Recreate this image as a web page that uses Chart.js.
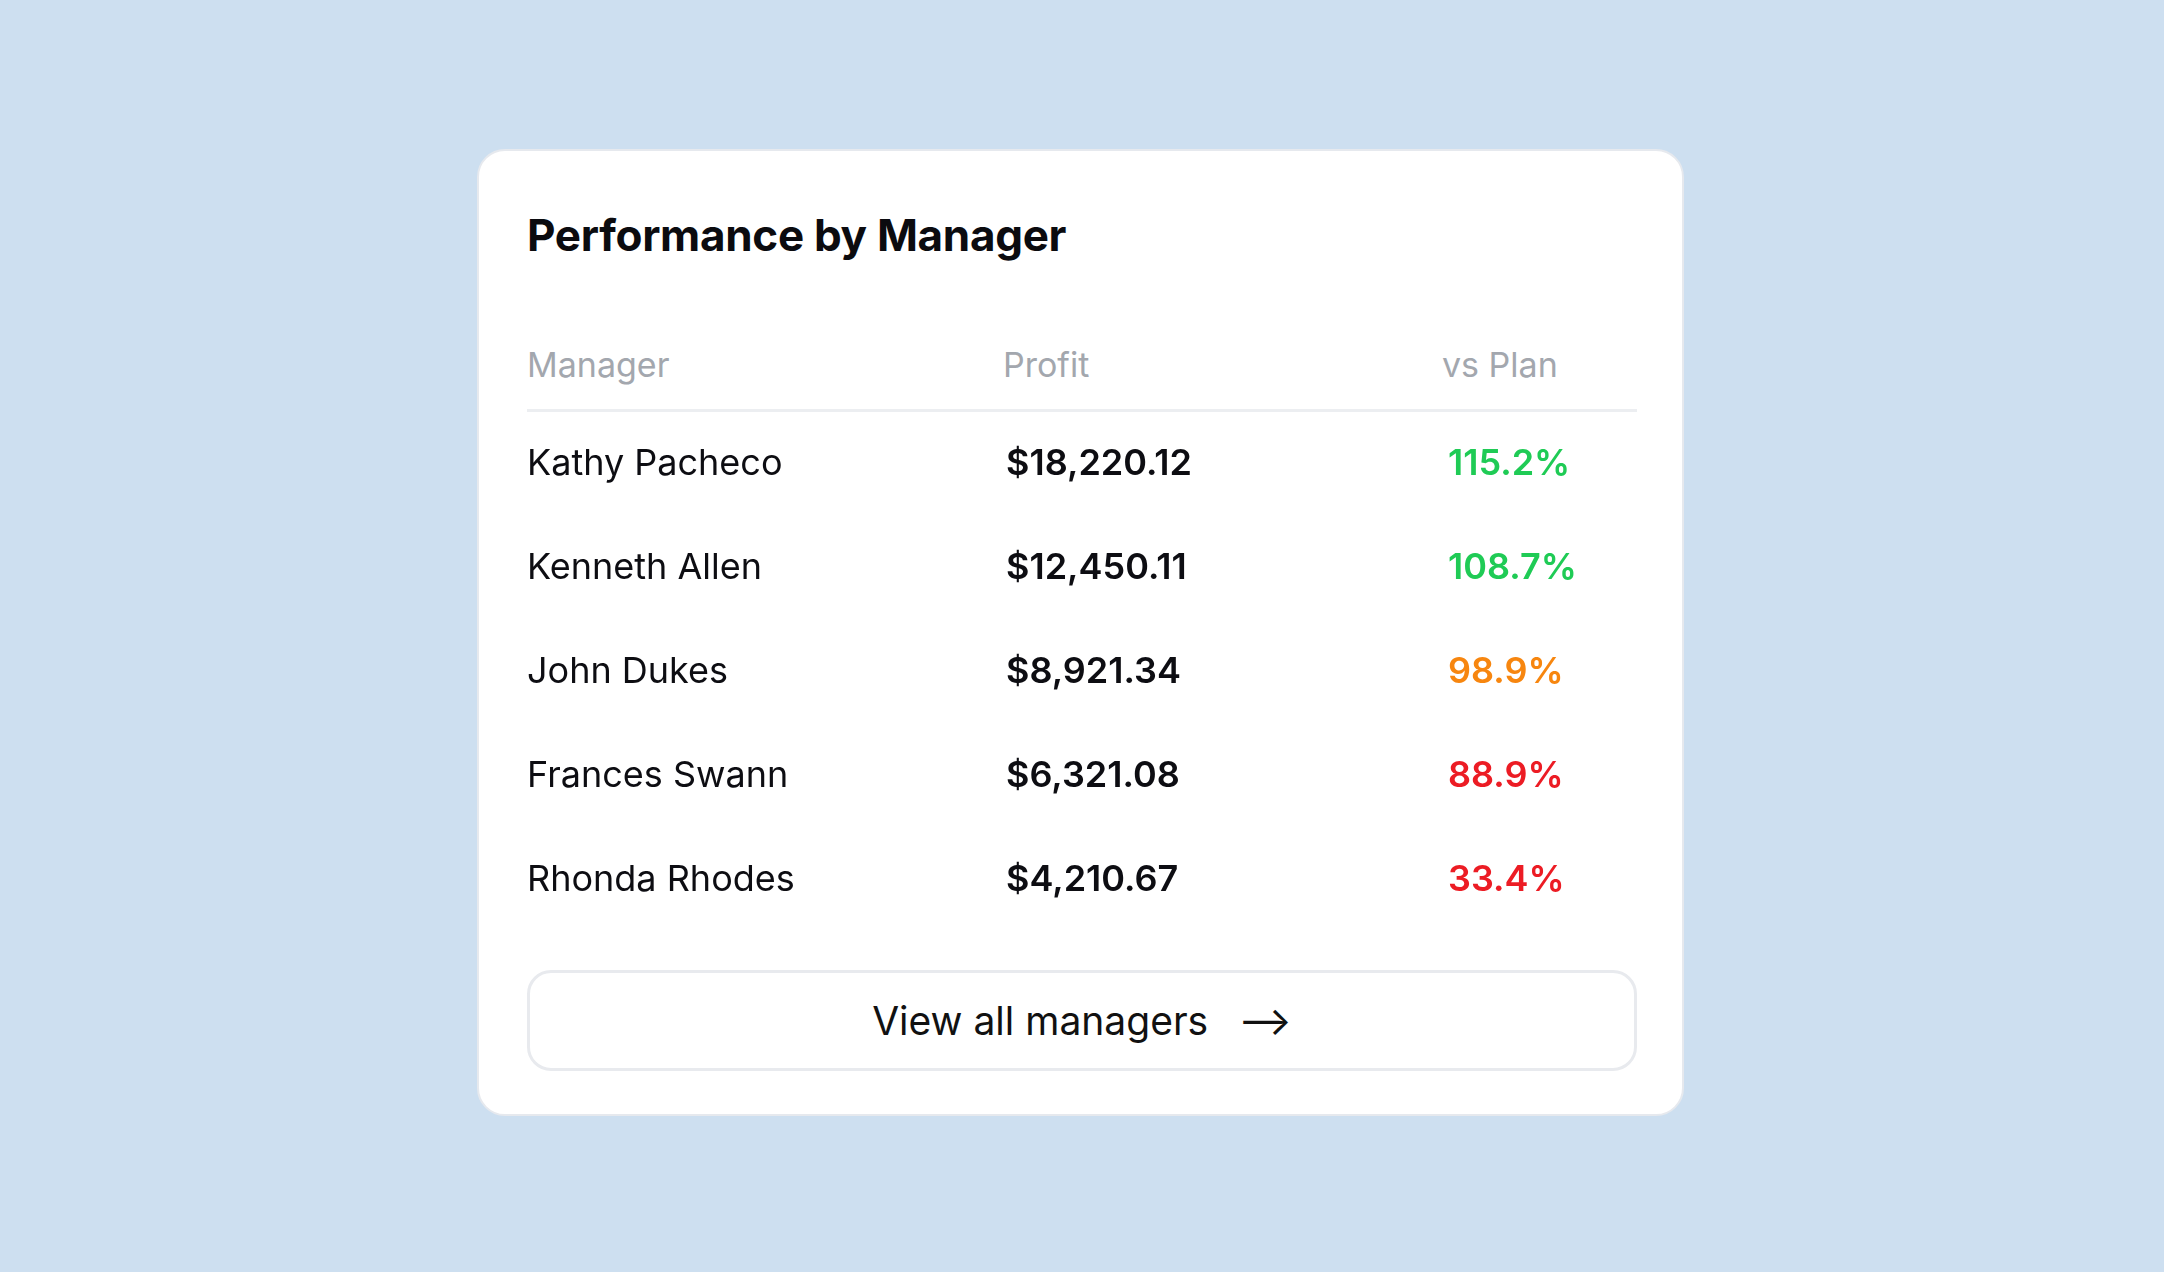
<!DOCTYPE html>
<html><head><meta charset="utf-8">
<script src="https://cdn.jsdelivr.net/npm/chart.js@4/dist/chart.umd.min.js"></script>
<style>
html,body{margin:0;padding:0;background:#cddff0;width:2164px;height:1272px;overflow:hidden;font-family:Inter,"Noto Sans",sans-serif;}
.card{position:absolute;left:477px;top:149px;width:1207px;height:967px;background:#fff;border:2px solid #e6e9ee;border-radius:28px;box-sizing:border-box;}
.title{position:absolute;left:527px;top:208px;font-size:44px;font-weight:700;color:#0b0b0f;letter-spacing:-0.3px;}
.hdr{position:absolute;top:344px;font-size:34px;color:#a3a7ae;}
.line{position:absolute;left:527px;top:409px;width:1110px;height:3px;background:#eceef1;}
#c{position:absolute;left:527px;top:412px;}
.btn{position:absolute;left:527px;top:970px;width:1110px;height:101px;border:3px solid #e8eaee;border-radius:24px;box-sizing:border-box;display:flex;align-items:center;justify-content:center;font-size:39px;color:#111;}
.btn span.arr{margin-left:30px;font-size:40px;}
</style></head><body>
<div class="card"></div>
<div class="title">Performance by Manager</div>
<div class="hdr" style="left:527px">Manager</div>
<div class="hdr" style="left:1003px">Profit</div>
<div class="hdr" style="left:1442px">vs Plan</div>
<div class="line"></div>
<canvas id="c" width="1110" height="520"></canvas>
<div class="btn">View all managers<span class="arr">⟶</span></div>
<script>
const managers=["Kathy Pacheco","Kenneth Allen","John Dukes","Frances Swann","Rhonda Rhodes"];
const profits=[18220.12,12450.11,8921.34,6321.08,4210.67];
const vsPlan=[115.2,108.7,98.9,88.9,33.4];
function planColor(v){return v>=100?'#1fcb55':(v>=95?'#f7860f':'#ec1c24');}
const tablePlugin={id:'tableText',afterDraw(chart){
  const ctx=chart.ctx,xs=chart.scales.x,ys=chart.scales.y;
  ctx.save();ctx.textBaseline='middle';ctx.textAlign='left';
  managers.forEach((m,i)=>{
    const y=ys.getPixelForValue(i);
    ctx.font='400 36px Inter, "Noto Sans", sans-serif';ctx.fillStyle='#0d0d12';
    ctx.fillText(m,xs.getPixelForValue(0),y);
    ctx.font='600 36px Inter, "Noto Sans", sans-serif';
    ctx.fillText('$'+profits[i].toLocaleString('en-US',{minimumFractionDigits:2,maximumFractionDigits:2}),xs.getPixelForValue(479),y);
    ctx.fillStyle=planColor(vsPlan[i]);
    ctx.fillText(vsPlan[i].toFixed(1)+'%',xs.getPixelForValue(921),y);
  });
  ctx.restore();}};
new Chart(document.getElementById('c'),{
  type:'bar',
  data:{labels:managers,datasets:[{data:managers.map(()=>null)}]},
  options:{responsive:false,devicePixelRatio:1,animation:false,indexAxis:'y',
    layout:{padding:0},
    plugins:{legend:{display:false},tooltip:{enabled:false}},
    scales:{x:{type:'linear',min:0,max:1110,display:false},y:{type:'category',display:false,offset:true}}},
  plugins:[tablePlugin]});
</script>
</body></html>
